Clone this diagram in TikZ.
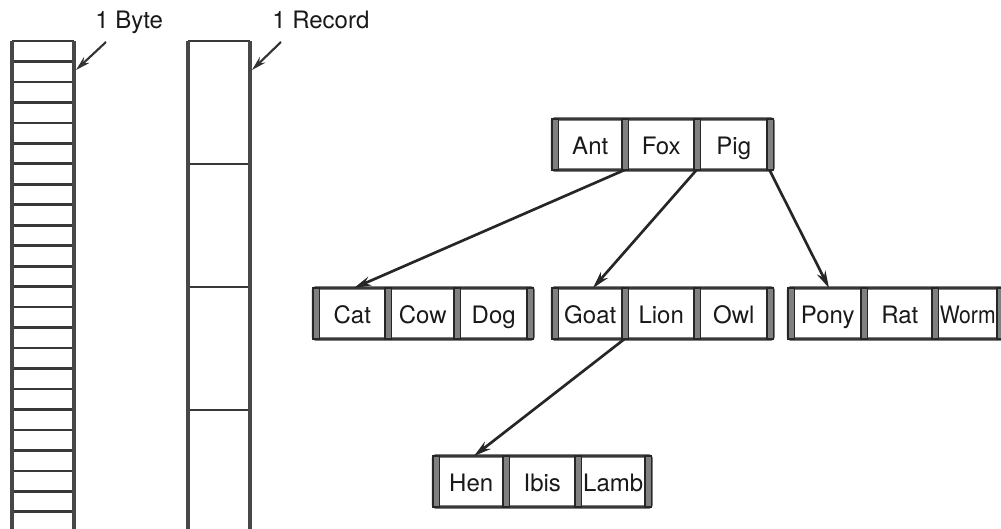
\documentclass[tikz,border=0pt]{standalone}
\usepackage{fontspec}
\setmainfont{TeX Gyre Heros}
\usetikzlibrary{arrows.meta}

% One B-tree node: name, left post, first divider, second divider,
% right post (left edges, px), top edge, and the three keys.
\newcommand\keyrow[9]{%
  \draw[rowedge] (#2+0.5,#6) rectangle (#5+6,#6+51);
  \foreach \px in {#2,#3,#4,#5}
    \filldraw[post] (\px,#6) rectangle (\px+6.5,#6+51);
  \node[keytext] (#1-a) at ({(#2+6.5+#3)/2},#6+35.5) {#7};
  \node[keytext] (#1-b) at ({(#3+6.5+#4)/2},#6+35.5) {#8};
  \node[keytext] (#1-c) at ({(#4+6.5+#5)/2},#6+35.5) {#9};
  \coordinate (#1-p1) at (#3+2.5,#6+51);
  \coordinate (#1-p2) at (#4+2.5,#6+51);
  \coordinate (#1-p3) at (#5+2.5,#6+51);
  \coordinate (#1-in) at (#2+41,#6);
}

\begin{document}
\begin{tikzpicture}[x=0.75pt,y=-0.75pt,
  colline/.style={black!72, line width=2.6pt},
  divline/.style={black!78, line width=2pt},
  rowedge/.style={draw=black!78, line width=2.4pt, rounded corners=1.5pt},
  post/.style={fill=black!50, draw=black!85, line width=1pt},
  keytext/.style={anchor=base, inner sep=0pt, text=black!90,
    font=\fontsize{18}{20}\selectfont},
  labeltext/.style={anchor=base west, inner sep=0pt, text=black!90,
    font=\fontsize{18}{20}\selectfont},
  ptr/.style={black!85, line width=2pt, -{Stealth[length=13pt,width=7pt]}},
  callout/.style={black!80, line width=1.6pt, -{Stealth[length=11pt,width=6pt]}}
]
\useasboundingbox (0,0) rectangle (1001,529);
\clip (0,0) rectangle (1001,529);

% byte-oriented file: a column of single-byte slots
\foreach \k in {0,...,23}
  \draw[divline] (12,{41+20.47*\k}) -- (74,{41+20.47*\k});
\draw[colline] (12,41) -- (12,535);
\draw[colline] (74,41) -- (74,535);

% record-oriented file: a column of fixed-size records
\foreach \yy in {41,164,287,410}
  \draw[divline] (188,\yy) -- (250,\yy);
\draw[colline] (188,41) -- (188,535);
\draw[colline] (250,41) -- (250,535);

% captions with their callout arrows
\node[labeltext] (bytelbl) at (95,28) {1 Byte};
\node[labeltext] (reclbl) at (272,28) {1 Record};
\coordinate (byte-tail) at (106,42);
\coordinate (byte-head) at (76,70);
\coordinate (rec-tail) at (281,42);
\coordinate (rec-head) at (252,70);
\draw[callout] (byte-tail) -- (byte-head);
\draw[callout] (rec-tail) -- (rec-head);

% tree of records
\keyrow{root}{552}{622}{694}{767}{119}{Ant}{Fox}{Pig}
\keyrow{cat}{313}{385}{454}{527}{288}{Cat}{Cow}{Dog}
\keyrow{goat}{552}{622}{694}{767}{288}{Goat}{Lion}{Owl}
\keyrow{pony}{788}{861}{932}{997}{288}{Pony}{Rat}{\scalebox{0.88}[1]{Worm}}
\keyrow{hen}{433}{503}{575}{645}{456}{Hen}{Ibis}{Lamb}

\draw[ptr] (root-p1) -- (cat-in);
\draw[ptr] (root-p2) -- (goat-in);
\draw[ptr] (root-p3) -- (pony-in);
\draw[ptr] (goat-p1) -- (hen-in);
\end{tikzpicture}
\end{document}
